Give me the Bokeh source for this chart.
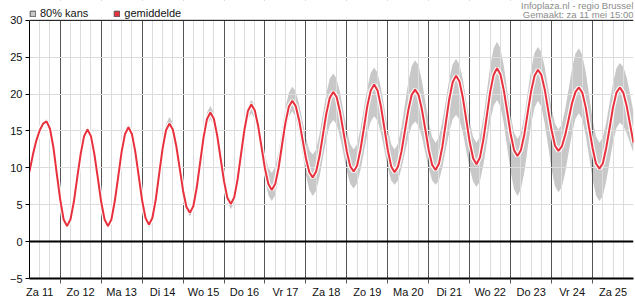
from bokeh.plotting import figure
from bokeh.models import (ColumnDataSource, FixedTicker, Range1d, Span, Label, Legend,
                          LegendItem, BoxAnnotation)
from bokeh.embed import file_html
from bokeh.resources import INLINE

# x-axis: hours since Za 11 mei 00:00 (2-hourly from 06:00 to Zo 26 mei 00:00)
uren = list(range(6, 361, 2))
dagen = ["Za 11", "Zo 12", "Ma 13", "Di 14", "Wo 15", "Do 16", "Vr 17",
         "Za 18", "Zo 19", "Ma 20", "Di 21", "Wo 22", "Do 23", "Vr 24", "Za 25"]
y_ticks = [-5, 0, 5, 10, 15, 20, 25, 30]

gemiddelde = [
    9.5, 11.8, 13.7, 15.1, 16.0, 16.3, 15.3, 12.8, 9.2,
    5.7, 3.0, 2.1, 3.0, 5.4, 8.7, 11.9, 14.3, 15.2, 14.3, 11.9, 8.7,
    5.4, 3.0, 2.1, 3.0, 5.5, 8.8, 12.2, 14.6, 15.5, 14.6, 12.2, 8.9,
    5.6, 3.2, 2.3, 3.2, 5.7, 9.2, 12.6, 15.1, 16.0, 15.2, 13.0, 10.0,
    6.9, 4.7, 3.9, 4.8, 7.3, 10.7, 14.1, 16.6, 17.5, 16.7, 14.4, 11.3,
    8.2, 5.9, 5.1, 6.0, 8.5, 11.9, 15.2, 17.7, 18.6, 17.8, 15.7, 12.8,
    9.9, 7.8, 7.0, 7.8, 10.0, 13.1, 16.1, 18.3, 19.1, 18.4, 16.5, 13.9,
    11.3, 9.4, 8.7, 9.5, 11.6, 14.5, 17.4, 19.5, 20.3, 19.6, 17.6, 14.9,
    12.2, 10.2, 9.5, 10.3, 12.5, 15.4, 18.4, 20.5, 21.3, 20.5, 18.3, 15.4,
    12.4, 10.2, 9.4, 10.2, 12.2, 15.0, 17.8, 19.9, 20.6, 19.9, 17.9, 15.2,
    12.4, 10.4, 9.7, 10.6, 12.9, 16.1, 19.3, 21.6, 22.5, 21.7, 19.5, 16.5,
    13.5, 11.3, 10.5, 11.4, 13.8, 17.0, 20.3, 22.6, 23.5, 22.7, 20.5, 17.6,
    14.6, 12.4, 11.6, 12.4, 14.5, 17.5, 20.4, 22.5, 23.3, 22.6, 20.6, 17.8,
    15.1, 13.0, 12.3, 12.9, 14.5, 16.6, 18.8, 20.3, 20.9, 20.2, 18.2, 15.4,
    12.7, 10.6, 9.9, 10.6, 12.7, 15.4, 18.2, 20.2, 20.9, 20.2, 18.4, 15.9,
    13.4,
]

kans_laag = [
    9.2, 11.5, 13.4, 14.8, 15.7, 16.0, 15.1, 12.5, 9.0,
    5.4, 2.8, 1.9, 2.8, 5.2, 8.5, 11.7, 14.1, 15.0, 14.1, 11.7, 8.4,
    5.1, 2.7, 1.8, 2.7, 5.2, 8.5, 11.9, 14.3, 15.2, 14.3, 11.9, 8.6,
    5.2, 2.8, 1.9, 2.8, 5.3, 8.8, 12.2, 14.7, 15.6, 14.8, 12.6, 9.5,
    6.5, 4.2, 3.4, 4.3, 6.7, 10.0, 13.3, 15.7, 16.6, 15.8, 13.6, 10.5,
    7.5, 5.2, 4.4, 5.3, 7.7, 10.9, 14.2, 16.5, 17.4, 16.6, 14.4, 11.5,
    8.5, 6.3, 5.5, 6.3, 8.6, 11.6, 14.7, 16.9, 17.7, 16.9, 14.8, 12.0,
    9.1, 7.0, 6.2, 6.9, 8.8, 11.4, 13.9, 15.8, 16.5, 15.9, 14.2, 11.9,
    9.5, 7.8, 7.2, 7.9, 9.7, 12.1, 14.6, 16.3, 17.0, 16.4, 14.7, 12.4,
    10.0, 8.3, 7.7, 8.3, 9.9, 12.0, 14.2, 15.7, 16.3, 15.7, 14.2, 12.0,
    9.9, 8.3, 7.7, 8.3, 10.1, 12.5, 14.8, 16.6, 17.2, 16.5, 14.8, 12.3,
    9.9, 8.1, 7.4, 8.2, 10.4, 13.3, 16.3, 18.4, 19.2, 18.3, 16.0, 12.7,
    9.5, 7.1, 6.2, 7.1, 9.4, 12.7, 15.9, 18.2, 19.1, 18.3, 16.0, 12.9,
    9.8, 7.5, 6.7, 7.4, 9.4, 12.1, 14.7, 16.7, 17.4, 16.6, 14.4, 11.5,
    8.5, 6.3, 5.5, 6.2, 8.2, 10.8, 13.5, 15.4, 16.1, 15.7, 14.7, 13.4,
    12.0,
]

kans_hoog = [
    9.8, 12.1, 14.0, 15.4, 16.3, 16.6, 15.6, 13.0, 9.5,
    5.9, 3.3, 2.3, 3.2, 5.6, 8.9, 12.2, 14.6, 15.5, 14.6, 12.2, 9.0,
    5.7, 3.3, 2.4, 3.3, 5.8, 9.1, 12.5, 14.9, 15.8, 14.9, 12.5, 9.2,
    5.9, 3.5, 2.6, 3.6, 6.2, 9.8, 13.3, 15.9, 16.9, 16.1, 13.8, 10.6,
    7.5, 5.1, 4.3, 5.2, 7.8, 11.4, 14.9, 17.5, 18.4, 17.5, 15.2, 12.0,
    8.8, 6.5, 5.6, 6.5, 9.0, 12.4, 15.8, 18.3, 19.2, 18.5, 16.7, 14.3,
    11.8, 10.0, 9.3, 10.1, 12.2, 15.2, 18.1, 20.2, 21.0, 20.4, 18.7, 16.4,
    14.1, 12.4, 11.8, 12.5, 14.6, 17.3, 20.1, 22.1, 22.8, 22.1, 20.2, 17.7,
    15.1, 13.2, 12.5, 13.2, 15.3, 18.1, 20.8, 22.9, 23.6, 22.9, 20.8, 18.1,
    15.3, 13.2, 12.5, 13.3, 15.5, 18.6, 21.6, 23.8, 24.6, 23.9, 21.8, 19.0,
    16.2, 14.2, 13.4, 14.2, 16.3, 19.1, 22.0, 24.0, 24.8, 24.0, 22.0, 19.1,
    16.3, 14.2, 13.4, 14.3, 16.8, 20.3, 23.7, 26.2, 27.1, 26.2, 23.8, 20.5,
    17.2, 14.8, 13.9, 14.7, 17.0, 20.2, 23.3, 25.6, 26.4, 25.7, 23.6, 20.8,
    18.0, 16.0, 15.2, 15.9, 18.0, 20.7, 23.5, 25.5, 26.2, 25.3, 23.0, 19.8,
    16.6, 14.3, 13.4, 14.1, 16.1, 18.8, 21.5, 23.5, 24.2, 23.7, 22.3, 20.0,
    17.5,
]

FONT = "Liberation Sans"
src = ColumnDataSource(dict(uur=uren, gem=gemiddelde, laag=kans_laag, hoog=kans_hoog))

Y_MIN, Y_MAX = -5, 30
Y_TOP = 32.69  # frame extends over the header strip (legend + credits)

p = figure(width=635, height=300, output_backend="svg", toolbar_location=None,
           x_range=Range1d(6, 360), y_range=Range1d(Y_MIN, Y_TOP),
           min_border_left=29, min_border_right=2, min_border_top=0, min_border_bottom=20)
p.outline_line_color = None
p.background_fill_color = "white"
p.border_fill_color = "white"

noons = [12 + 24 * i for i in range(len(dagen))]
midnights = [24 * i for i in range(1, len(dagen))]
six_hourly = list(range(6, 360, 6))

# grids
p.xgrid.ticker = FixedTicker(ticks=midnights, minor_ticks=six_hourly)
p.xgrid.grid_line_color = "#555555"
p.xgrid.grid_line_width = 1
p.xgrid.minor_grid_line_color = "#dcdcdc"
p.ygrid.ticker = FixedTicker(ticks=y_ticks)
p.ygrid.grid_line_color = "#dcdcdc"

# band, line
p.varea(x="uur", y1="laag", y2="hoog", source=src, fill_color="#c8c8c8", level="image")
p.line(x="uur", y="gem", source=src, line_color="white", line_width=4.5, line_alpha=0.9)
p.line(x="uur", y="gem", source=src, line_color="#e8313d", line_width=2)

# header strip: hide grid above the 30-line
p.add_layout(BoxAnnotation(bottom=Y_MAX, fill_color="white", fill_alpha=1.0, line_color=None))
p.add_layout(Span(location=0, dimension="width", line_color="black", line_width=2))
p.add_layout(Span(location=Y_MAX, dimension="width", line_color="black", line_width=1))

# axes
xa = p.xaxis[0]
xa.ticker = FixedTicker(ticks=noons, minor_ticks=midnights)
xa.major_label_overrides = {n: d for n, d in zip(noons, dagen)}
xa.major_tick_out = 0
xa.major_tick_in = 0
xa.minor_tick_out = 5
xa.minor_tick_in = 0
xa.minor_tick_line_color = "#555555"
xa.axis_line_color = "black"
xa.axis_line_width = 2
xa.major_label_standoff = 2
xa.major_label_text_font = FONT
xa.major_label_text_font_size = "11px"
xa.major_label_text_color = "#111111"

ya = p.yaxis[0]
ya.ticker = FixedTicker(ticks=y_ticks)
ya.bounds = (Y_MIN, Y_MAX)
ya.major_tick_out = 4
ya.major_tick_in = 0
ya.minor_tick_out = 0
ya.minor_tick_in = 0
ya.axis_line_color = "black"
ya.major_tick_line_color = "black"
ya.major_label_standoff = 3
ya.major_label_text_font = FONT
ya.major_label_text_font_size = "11px"
ya.major_label_text_color = "#111111"

# legend (in the header strip); swatch renderers carry no visible data
nan = float("nan")
r1 = p.quad(left=[nan], right=[nan], top=[nan], bottom=[nan],
            fill_color="#c8c8c8", line_color="#555555")
r2 = p.quad(left=[nan], right=[nan], top=[nan], bottom=[nan],
            fill_color="#e8313d", line_color="#555555")
legend = Legend(items=[LegendItem(label="80% kans", renderers=[r1]),
                       LegendItem(label="gemiddelde", renderers=[r2])],
                orientation="horizontal", location=(0, 259),
                glyph_width=7, glyph_height=7, label_standoff=4, spacing=25,
                padding=0, margin=0, border_line_color=None, background_fill_alpha=0,
                label_text_font=FONT, label_text_font_size="11px", label_text_color="#111111",
                label_height=12)
p.add_layout(legend)

p.add_layout(Label(x=360, y=32.05, text="Infoplaza.nl - regio Brussel", text_align="right",
                   text_baseline="middle", text_font=FONT, text_font_size="9.5px", text_color="#8c8c8c"))
p.add_layout(Label(x=360, y=30.85, text="Gemaakt: za 11 mei 15:00", text_align="right",
                   text_baseline="middle", text_font=FONT, text_font_size="9.5px", text_color="#8c8c8c"))

open("out.html", "w").write(file_html(p, INLINE))
